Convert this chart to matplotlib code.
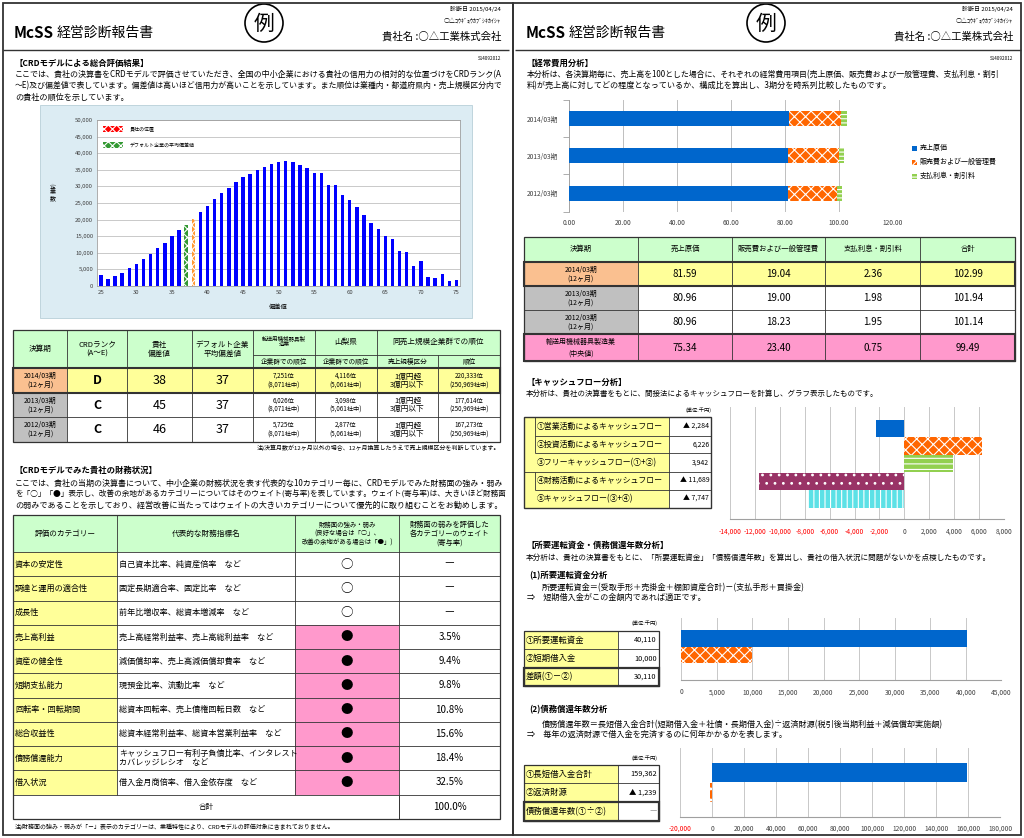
import matplotlib
matplotlib.use('Agg')
import matplotlib.pyplot as plt
from matplotlib.patches import Rectangle, Circle

plt.rcParams['font.family'] = ['Noto Sans CJK JP', 'DejaVu Sans']
plt.rcParams['hatch.linewidth'] = 0.8

# ------------------------------------------------------------------ data
hist_scores = list(range(25, 76))
hist_counts = [3200, 2000, 3000, 4000, 5300, 6600, 8000, 9700, 11300, 13000,
               15100, 16900, 18500, 20300, 22300, 24200, 26200, 28100, 29500, 31200,
               32700, 33700, 35000, 35900, 36600, 37400, 37500, 37300, 36500, 35500,
               34000, 34000, 30400, 30300, 27500, 25800, 23700, 21500, 19100, 17200,
               15000, 14300, 10500, 10100, 5900, 7600, 2600, 2300, 3500, 1500, 1800]
company_score = 38
default_avg_score = 37

crd_periods = ['2014/03期\n(12ヶ月)', '2013/03期\n(12ヶ月)', '2012/03期\n(12ヶ月)']
crd_rank = ['D', 'C', 'C']
crd_score = ['38', '45', '46']
crd_default = ['37', '37', '37']
crd_industry_rank = ['7,251位\n(8,071社中)', '6,026位\n(8,071社中)', '5,725位\n(8,071社中)']
crd_pref_rank = ['4,116位\n(5,061社中)', '3,098位\n(5,061社中)', '2,877位\n(5,061社中)']
crd_size_class = ['1億円超\n3億円以下', '1億円超\n3億円以下', '1億円超\n3億円以下']
crd_size_rank = ['220,333位\n(250,969社中)', '177,614位\n(250,969社中)', '167,273位\n(250,969社中)']

fin_categories = ['資本の安定性', '調達と運用の適合性', '成長性', '売上高利益', '資産の健全性',
                  '短期支払能力', '回転率・回転期間', '総合収益性', '債務償還能力', '借入状況']
fin_indicators = ['自己資本比率、純資産倍率　など', '固定長期適合率、固定比率　など',
                  '前年比増収率、総資本増減率　など', '売上高経常利益率、売上高総利益率　など',
                  '減価償却率、売上高減価償却費率　など', '現預金比率、流動比率　など',
                  '総資本回転率、売上債権回転日数　など', '総資本経常利益率、総資本営業利益率　など',
                  'キャッシュフロー有利子負債比率、インタレスト\nカバレッジレシオ　など',
                  '借入金月商倍率、借入金依存度　など']
fin_marks = ['○', '○', '○', '●', '●', '●', '●', '●', '●', '●']
fin_weights = ['―', '―', '―', '3.5%', '9.4%', '9.8%', '10.8%', '15.6%', '18.4%', '32.5%']
fin_total = '100.0%'

cost_periods = ['2014/03期', '2013/03期', '2012/03期']
cost_items = ['売上原価', '販売費および一般管理費', '支払利息・割引料']
cost_of_sales = [81.59, 80.96, 80.96]
sga_costs = [19.04, 19.00, 18.23]
interest_costs = [2.36, 1.98, 1.95]
industry_label = '輸送用機械器具製造業\n(中央値)'
industry_costs = [75.34, 23.40, 0.75]

cf_labels = ['①営業活動によるキャッシュフロー', '②投資活動によるキャッシュフロー',
             '③フリーキャッシュフロー(①+②)', '④財務活動によるキャッシュフロー',
             '⑤キャッシュフロー(③+④)']
cf_values = [-2284, 6226, 3942, -11689, -7747]

wc_labels = ['①所要運転資金', '②短期借入金', '差額(①－②)']
wc_values = [40110, 10000, 30110]

debt_labels = ['①長短借入金合計', '②返済財源', '債務償還年数(①÷②)']
debt_values = [159362, -1239]
debt_years = '―'

# ------------------------------------------------------------------ colours
GREEN_H = '#ccffcc'
YELLOW = '#ffff99'
PEACH = '#fac090'
GRAY = '#c0c0c0'
PINK = '#ff99cc'
BLUE = '#0066cc'
ORANGE = '#ff6600'
LGREEN = '#92d050'
PURPLE = '#993366'
CYAN = '#5ce1e6'
LINE = '#333333'

W, H = 1024, 838
fig = plt.figure(figsize=(W / 100, H / 100), dpi=100)
bg = fig.add_axes([0, 0, 1, 1])
bg.set_xlim(0, W)
bg.set_ylim(H, 0)
bg.axis('off')
renderer = fig.canvas.get_renderer()


def T(x, y, s, size=5.85, ha='left', va='center', weight='normal', color='black', ls=1.15,
      max_right=None):
    t = bg.text(x, y, s, fontsize=size, ha=ha, va=va, fontweight=weight, color=color,
                linespacing=ls, zorder=5)
    if max_right is not None:
        bb = t.get_window_extent(renderer=renderer)
        if bb.x1 > max_right:
            t.set_fontsize(size * (max_right - x) / (bb.x1 - x))
    return t


def R(x0, y0, x1, y1, fc='none', ec=LINE, lw=0.6, hatch=None, z=1):
    bg.add_patch(Rectangle((x0, y0), x1 - x0, y1 - y0, facecolor=fc, edgecolor=ec,
                           linewidth=lw, hatch=hatch, zorder=z))


def L(x0, y0, x1, y1, color=LINE, lw=0.6, z=3):
    bg.plot([x0, x1], [y0, y1], color=color, lw=lw, zorder=z, solid_capstyle='butt')


def axpx(x0, y0, x1, y1):
    return fig.add_axes([x0 / W, 1 - y1 / H, (x1 - x0) / W, (y1 - y0) / H])


def fmt_tri(v):
    return f'▲ {abs(v):,}' if v < 0 else f'{v:,}'


hmid = lambda a, b: (a + b) / 2

# ------------------------------------------------------------------ page frames / headers
R(3, 3, 513, 835, lw=1.3, z=6)
R(513, 3, 1021, 835, lw=1.3, z=6)
for ox, cx in [(0, 264), (512, 766)]:
    L(ox + 3, 50, ox + 509, 50, lw=1.0)
    T(ox + 14, 33, 'McSS', size=11, weight='bold')
    T(ox + 57, 33, '経営診断報告書', size=10)
    bg.add_patch(Circle((cx, 23), 19, facecolor='none', edgecolor='black', lw=1.2, zorder=5))
    T(cx, 24, '例', size=15, ha='center')
    T(ox + 501, 9, '診断日 2015/04/24', size=4.3, ha='right')
    T(ox + 501, 21, '○△ｺｳｷﾞｮｳｶﾌﾞｼｷｶｲｼｬ', size=4.3, ha='right')
    T(ox + 501, 36, '貴社名 :○△工業株式会社', size=7.5, ha='right')
    T(ox + 501, 58, 'S14092012', size=3.3, ha='right')

# ------------------------------------------------------------------ left page: section 1
T(15, 63, '【CRDモデルによる総合評価結果】', size=6, weight='bold')
p1 = ['ここでは、貴社の決算書をCRDモデルで評価させていただき、全国の中小企業における貴社の信用力の相対的な位置づけをCRDランク(A',
      '～E)及び偏差値で表しています。偏差値は高いほど信用力が高いことを示しています。また順位は業種内・都道府県内・売上規模区分内で',
      'の貴社の順位を示しています。']
for i, s in enumerate(p1):
    T(15, 75 + 11 * i, s, max_right=504)

# histogram panel
R(40, 105, 472, 318, fc='#dcecf3', ec='#b8cfd8', lw=0.6, z=0)
R(97.3, 120, 460, 286, fc='white', ec='none', lw=0, z=0.5)
hax = axpx(97.3, 120, 460, 286)
hax.set_facecolor('none')
hcols = []
hh = []
for s in hist_scores:
    if s == company_score:
        hcols.append('#ff9933'); hh.append('xxxx')
    elif s == default_avg_score:
        hcols.append('#339933'); hh.append('xxxx')
    else:
        hcols.append('#0000ff'); hh.append(None)
bars = hax.bar(hist_scores, hist_counts, width=0.48, color=hcols, linewidth=0, zorder=3)
for b, h in zip(bars, hh):
    if h:
        b.set_hatch(h)
        b.set_edgecolor('white')
hax.set_xlim(24.5, 75.5)
hax.set_ylim(0, 50000)
hax.set_yticks(range(0, 50001, 5000))
hax.set_yticklabels([f'{v:,}' for v in range(0, 50001, 5000)], fontsize=4.3, color='#404040')
hax.set_xticks(range(25, 76, 5))
hax.set_xticklabels([str(v) for v in range(25, 76, 5)], fontsize=4.3, color='#404040')
hax.tick_params(length=0, pad=3)
hax.grid(axis='y', color='#c0c0c0', lw=0.6, zorder=0)
hax.set_axisbelow(True)
for sp in hax.spines.values():
    sp.set_color('#a0a0a0'); sp.set_linewidth(0.6)
T(278, 307, '偏差値', size=4.5, ha='center')
T(53, 193, '企\n業\n数', size=4.3, ha='center', ls=1.0)
# legend inside histogram
R(103, 126, 123, 132, fc='red', ec='white', lw=0, hatch='xxxx', z=4)
T(130, 129, '貴社の位置', size=3.6)
R(103, 142, 123, 148, fc='#339933', ec='white', lw=0, hatch='xxxx', z=4)
T(130, 145, 'デフォルト企業の平均偏差値', size=3.6)

# table 1
c1 = [13, 67, 127, 192, 253, 315, 377, 438, 500]
hy0, hy1, hy2 = 330, 355, 368
r1 = [368, 393, 417, 442]
R(c1[0], hy0, c1[-1], hy2, fc=GREEN_H, lw=0)
for i in range(3):
    fc0 = PEACH if i == 0 else GRAY
    fcr = YELLOW if i == 0 else 'white'
    R(c1[0], r1[i], c1[1], r1[i + 1], fc=fc0, lw=0)
    R(c1[1], r1[i], c1[-1], r1[i + 1], fc=fcr, lw=0)
for i in range(1, len(c1) - 1):
    L(c1[i], hy1 if i == 7 else hy0, c1[i], r1[-1])
L(c1[4], hy1, c1[-1], hy1)
for y in r1[:-1]:
    L(c1[0], y, c1[-1], y)
R(c1[0], hy0, c1[-1], r1[-1], lw=0.9, z=3)
R(c1[0], r1[0], c1[-1], r1[1], lw=1.5, z=4)
hdrs = ['決算期', 'CRDランク\n(A～E)', '貴社\n偏差値', 'デフォルト企業\n平均偏差値']
for i, s in enumerate(hdrs):
    T(hmid(c1[i], c1[i + 1]), 349, s, size=5.5, ha='center')
T(hmid(c1[4], c1[5]), 341.5, '輸送用機械器具製\n造業', size=4.0, ha='center', ls=1.0)
T(hmid(c1[5], c1[6]), 342, '山梨県', size=5.5, ha='center')
T(hmid(c1[6], c1[8]), 342, '同売上規模企業群での順位', size=5.5, ha='center')
T(hmid(c1[4], c1[5]), 361.5, '企業群での順位', size=4.8, ha='center')
T(hmid(c1[5], c1[6]), 361.5, '企業群での順位', size=4.8, ha='center')
T(hmid(c1[6], c1[7]), 361.5, '売上規模区分', size=4.8, ha='center')
T(hmid(c1[7], c1[8]), 361.5, '順位', size=4.8, ha='center')
for i in range(3):
    yc = hmid(r1[i], r1[i + 1])
    T(hmid(c1[0], c1[1]), yc, crd_periods[i], size=5, ha='center', ls=1.1)
    T(hmid(c1[1], c1[2]), yc, crd_rank[i], size=9, ha='center', weight='bold')
    T(hmid(c1[2], c1[3]), yc, crd_score[i], size=9, ha='center')
    T(hmid(c1[3], c1[4]), yc, crd_default[i], size=9, ha='center')
    T(hmid(c1[4], c1[5]), yc, crd_industry_rank[i], size=4.5, ha='center', ls=1.2)
    T(hmid(c1[5], c1[6]), yc, crd_pref_rank[i], size=4.5, ha='center', ls=1.2)
    T(hmid(c1[6], c1[7]), yc, crd_size_class[i], size=5.5, ha='center', ls=1.05)
    T(hmid(c1[7], c1[8]), yc, crd_size_rank[i], size=4.5, ha='center', ls=1.2)
T(500, 448, '注)決算月数が12ヶ月以外の場合、12ヶ月換算したうえで売上規模区分を判断しています。', size=4.3, ha='right')

# ------------------------------------------------------------------ left page: section 2
T(15, 470, '【CRDモデルでみた貴社の財務状況】', size=6, weight='bold')
p2 = ['ここでは、貴社の当期の決算書について、中小企業の財務状況を表す代表的な10カテゴリー毎に、CRDモデルでみた財務面の強み・弱み',
      'を「○」「●」表示し、改善の余地があるカテゴリーについてはそのウェイト(寄与率)を表しています。ウェイト(寄与率)は、大きいほど財務面',
      'の弱みであることを示しており、経営改善に当たってはウェイトの大きいカテゴリーについて優先的に取り組むことをお勧めします。']
for i, s in enumerate(p2):
    T(15, 483 + 11 * i, s, max_right=504)

c2 = [13, 117, 295, 399, 500]
ty0, ty1 = 515, 552
step = 24.25
r2 = [ty1 + step * i for i in range(11)]
tot_b = r2[-1] + 24
R(c2[0], ty0, c2[-1], ty1, fc=GREEN_H, lw=0)
for i in range(10):
    R(c2[0], r2[i], c2[1], r2[i + 1], fc=YELLOW, lw=0)
    if fin_marks[i] == '●':
        R(c2[2], r2[i], c2[3], r2[i + 1], fc=PINK, lw=0)
for i in range(1, 4):
    L(c2[i], ty0, c2[i], r2[-1] if i < 3 else tot_b)
L(c2[3], r2[-1], c2[3], tot_b)
for y in [ty1] + r2[1:]:
    L(c2[0], y, c2[-1], y)
R(c2[0], ty0, c2[-1], tot_b, lw=0.9, z=3)
T(hmid(c2[0], c2[1]), hmid(ty0, ty1), '評価のカテゴリー', size=5.5, ha='center')
T(hmid(c2[1], c2[2]), hmid(ty0, ty1), '代表的な財務指標名', size=5.5, ha='center')
T(hmid(c2[2], c2[3]), hmid(ty0, ty1), '財務面の強み・弱み\n(良好な場合は「○」、\n改善の余地がある場合は「●」)', size=4.6, ha='center', ls=1.15)
T(hmid(c2[3], c2[4]), hmid(ty0, ty1), '財務面の弱みを評価した\n各カテゴリーのウェイト\n(寄与率)', size=5.2, ha='center', ls=1.15)
for i in range(10):
    yc = hmid(r2[i], r2[i + 1])
    T(c2[0] + 2, yc, fin_categories[i], size=5.85)
    T(c2[1] + 2, yc, fin_indicators[i], size=5.85, ls=1.05)
    T(hmid(c2[2], c2[3]), yc, fin_marks[i], size=9, ha='center')
    T(hmid(c2[3], c2[4]), yc, fin_weights[i], size=7, ha='center')
T(hmid(c2[0], c2[3]), hmid(r2[-1], tot_b), '合計', size=5.5, ha='center')
T(hmid(c2[3], c2[4]), hmid(r2[-1], tot_b), fin_total, size=7, ha='center')
T(15, 827, '注)財務面の強み・弱みが「－」表示のカテゴリーは、業種特性により、CRDモデルの評価対象に含まれておりません。', size=4.3)

# ------------------------------------------------------------------ right page: cost analysis
T(527, 63, '【経常費用分析】', size=6, weight='bold')
p3 = ['本分析は、各決算期毎に、売上高を100とした場合に、それぞれの経常費用項目(売上原価、販売費および一般管理費、支払利息・割引',
      '料)が売上高に対してどの程度となっているか、構成比を算出し、3期分を時系列比較したものです。']
for i, s in enumerate(p3):
    T(527, 75 + 11 * i, s, max_right=1003)

cax = axpx(569.3, 100, 893, 211.7)
ypos = list(range(len(cost_periods)))
cax.barh(ypos, cost_of_sales, height=0.4, color=BLUE, lw=0, zorder=3)
left2 = cost_of_sales
cax.barh(ypos, sga_costs, left=left2, height=0.4, color=ORANGE, edgecolor='white',
         hatch='xxx', lw=0, zorder=3)
left3 = [a + b for a, b in zip(cost_of_sales, sga_costs)]
cax.barh(ypos, interest_costs, left=left3, height=0.4, color=LGREEN, edgecolor='white',
         hatch='----', lw=0, zorder=3)
cax.set_xlim(0, 120)
cax.set_ylim(2.5, -0.5)
cax.set_xticks(range(0, 121, 20))
cax.set_xticklabels([f'{v:.2f}' for v in range(0, 121, 20)], fontsize=4.8, color='#404040')
cax.set_yticks(ypos)
cax.set_yticklabels(cost_periods, fontsize=4.8, color='#404040')
cax.set_yticks([-0.5, 0.5, 1.5, 2.5], minor=True)
cax.tick_params(axis='y', which='major', length=0, pad=8)
cax.tick_params(axis='y', which='minor', length=4, color='#a0a0a0', width=0.6)
cax.tick_params(axis='x', length=0, pad=5)
cax.grid(axis='x', color='#bfbfbf', lw=0.7)
cax.set_axisbelow(True)
for k in ['top', 'right', 'bottom']:
    cax.spines[k].set_visible(False)
cax.spines['left'].set_color('#a0a0a0')
cax.spines['left'].set_linewidth(0.6)
cax.set_facecolor('none')
leg_cols = [(BLUE, None), (ORANGE, 'xxx'), (LGREEN, '----')]
for i, (lab, (fc, hat)) in enumerate(zip(cost_items, leg_cols)):
    yc = 148.3 + 13.9 * i
    R(912, yc - 2.5, 917, yc + 2.5, fc=fc, ec='white' if hat else fc, lw=0, hatch=hat, z=4)
    T(920, yc, lab, size=5)

# cost table
c3 = [523.7, 638, 732, 825.3, 920.3, 1015.3]
r3 = [236.7, 261.7, 286, 310, 334.3, 361]
R(c3[0], r3[0], c3[-1], r3[1], fc=GREEN_H, lw=0)
row_labels = [p + '\n(12ヶ月)' for p in cost_periods] + [industry_label]
row_vals = [[a, b, c] for a, b, c in zip(cost_of_sales, sga_costs, interest_costs)] + [industry_costs]
for i in range(4):
    if i == 0:
        fc0, fcr = PEACH, YELLOW
    elif i == 3:
        fc0, fcr = PINK, PINK
    else:
        fc0, fcr = GRAY, 'white'
    R(c3[0], r3[i + 1], c3[1], r3[i + 2], fc=fc0, lw=0)
    R(c3[1], r3[i + 1], c3[-1], r3[i + 2], fc=fcr, lw=0)
for x in c3[1:-1]:
    L(x, r3[0], x, r3[-1])
for y in r3[1:-1]:
    L(c3[0], y, c3[-1], y)
R(c3[0], r3[0], c3[-1], r3[-1], lw=0.9, z=3)
R(c3[0], r3[1], c3[-1], r3[2], lw=1.5, z=4)
R(c3[0], r3[4], c3[-1], r3[5], lw=1.5, z=4)
for j, s in enumerate(['決算期'] + cost_items + ['合計']):
    T(hmid(c3[j], c3[j + 1]), hmid(r3[0], r3[1]), s, size=5.3, ha='center')
for i in range(4):
    yc = hmid(r3[i + 1], r3[i + 2])
    T(hmid(c3[0], c3[1]), yc, row_labels[i], size=5, ha='center', ls=1.1 if i < 3 else 1.6)
    vals = row_vals[i]
    for j, v in enumerate(vals):
        T(hmid(c3[j + 1], c3[j + 2]), yc, f'{v:.2f}', size=7, ha='center')
    T(hmid(c3[4], c3[5]), yc, f'{sum(vals):.2f}', size=7, ha='center')

# ------------------------------------------------------------------ right page: cash flow
T(527, 382, '【キャッシュフロー分析】', size=6, weight='bold')
T(526, 393.5, '本分析は、貴社の決算書をもとに、間接法によるキャッシュフローを計算し、グラフ表示したものです。', max_right=876)
T(711, 410, '(単位:千円)', size=3.8, ha='right')
cfy = [417.3, 435.7, 453.3, 471.7, 490, 508.3]
cx0, cxi, cxv, cx1 = 523.7, 534.7, 669.3, 711.3
R(cx0, cfy[0], cxv, cfy[-1], fc=YELLOW, lw=0)
R(cxv, cfy[0], cx1, cfy[-1], fc='white', lw=0)
L(cxi, cfy[0], cxi, cfy[2])
L(cxi, cfy[3], cxi, cfy[4])
L(cxv, cfy[0], cxv, cfy[-1])
L(cxi, cfy[1], cx1, cfy[1])
L(cxi, cfy[2], cx1, cfy[2])
L(cx0, cfy[3], cx1, cfy[3])
L(cxi, cfy[4], cx1, cfy[4])
R(cx0, cfy[0], cx1, cfy[-1], lw=1.0, z=3)
for i in range(5):
    yc = hmid(cfy[i], cfy[i + 1])
    T(cxi + 2, yc, cf_labels[i], size=5.7)
    T(cx1 - 2, yc, fmt_tri(cf_values[i]), size=5, ha='right')

fax = axpx(730.3, 406.7, 1003.7, 519.3)
cf_styles = [(BLUE, None), (ORANGE, 'xxx'), (LGREEN, '---'), (PURPLE, '..'), (CYAN, '|||')]
for i, (v, (fc, hat)) in enumerate(zip(cf_values, cf_styles)):
    fax.barh(i, v, height=0.98, color=fc, edgecolor='white' if hat else fc,
             hatch=hat, lw=0, zorder=3)
fax.set_xlim(-14000, 8000)
fax.set_ylim(4 + 1.15, -1.22)
cft = list(range(-14000, 8001, 2000))
fax.set_xticks(cft)
fax.set_xticklabels([f'{v:,}' for v in cft], fontsize=4.8)
for lab, v in zip(fax.get_xticklabels(), cft):
    lab.set_color('red' if v < 0 else '#404040')
fax.set_yticks([])
fax.tick_params(axis='x', length=0, pad=6)
fax.grid(axis='x', color='#c8c8c8', lw=0.7)
fax.set_axisbelow(True)
for k in ['top', 'right', 'left']:
    fax.spines[k].set_visible(False)
fax.spines['bottom'].set_color('#a0a0a0')
fax.set_facecolor('none')

# ------------------------------------------------------------------ right page: working capital
T(527, 545, '【所要運転資金・債務償還年数分析】', size=6, weight='bold')
T(526, 557.7, '本分析は、貴社の決算書をもとに、「所要運転資金」「債務償還年数」を算出し、貴社の借入状況に問題がないかを点検したものです。', max_right=990)
T(529, 575.7, '(1)所要運転資金分析', size=6, weight='bold')
T(542, 587.7, '所要運転資金＝(受取手形＋売掛金＋棚卸資産合計)－(支払手形＋買掛金)')
T(527, 597.5, '⇒　短期借入金がこの金額内であれば適正です。')
T(658, 623.3, '(単位:千円)', size=3.8, ha='right')


def small_table(ys, labels, values):
    x0, xm, x1 = 523.7, 618, 658.7
    for i in range(3):
        R(x0, ys[i], xm, ys[i + 1], fc=YELLOW, lw=0)
        R(xm, ys[i], x1, ys[i + 1], fc='white', lw=0)
    L(xm, ys[0], xm, ys[-1])
    for y in ys[1:-1]:
        L(x0, y, x1, y)
    R(x0, ys[0], x1, ys[-1], lw=0.9, z=3)
    R(x0, ys[2], x1, ys[3], lw=1.6, z=4)
    for i in range(3):
        yc = hmid(ys[i], ys[i + 1])
        T(x0 + 2, yc, labels[i], size=6)
        T(x1 - 2, yc, values[i], size=5.3, ha='right')


small_table([631, 649.3, 667.7, 686], wc_labels, [fmt_tri(v) for v in wc_values])

wax = axpx(681.3, 618.3, 1001.3, 680)
wax.barh(0, wc_values[0], height=1.0, color=BLUE, lw=0, zorder=3)
wax.barh(1, wc_values[1], height=1.0, color=ORANGE, edgecolor='white', hatch='xxx', lw=0, zorder=3)
wax.set_xlim(0, 45000)
wax.set_ylim(2.5, -1.2)
wt = list(range(0, 45001, 5000))
wax.set_xticks(wt)
wax.set_xticklabels([f'{v:,}' for v in wt], fontsize=4.8, color='#404040')
wax.set_yticks([])
wax.tick_params(axis='x', length=0, pad=6)
wax.grid(axis='x', color='#c8c8c8', lw=0.7)
wax.set_axisbelow(True)
for k in ['top', 'right', 'left']:
    wax.spines[k].set_visible(False)
wax.spines['bottom'].set_color('#a0a0a0')
wax.set_facecolor('none')

# ------------------------------------------------------------------ right page: debt repayment
T(529, 710, '(2)債務償還年数分析', size=6, weight='bold')
T(542, 724.3, '債務償還年数＝長短借入金合計(短期借入金＋社債・長期借入金)÷返済財源(税引後当期利益＋減価償却実施額)')
T(527, 734.5, '⇒　毎年の返済財源で借入金を完済するのに何年かかるかを表します。')
T(658, 758.3, '(単位:千円)', size=3.8, ha='right')
small_table([765, 783.3, 801.7, 820.7], debt_labels,
            [fmt_tri(v) for v in debt_values] + [debt_years])

dax = axpx(680.3, 748.3, 1000.3, 816.7)
dax.barh(0, debt_values[0], height=0.97, color=BLUE, lw=0, zorder=3)
dax.barh(1, debt_values[1], height=0.97, color=ORANGE, edgecolor='white', hatch='xxx', lw=0, zorder=3)
dax.set_xlim(-20000, 180000)
dax.set_ylim(1 + 1.24, -1.26)
dt = list(range(-20000, 180001, 20000))
dax.set_xticks(dt)
dax.set_xticklabels([f'{v:,}' for v in dt], fontsize=4.8)
for lab, v in zip(dax.get_xticklabels(), dt):
    lab.set_color('red' if v < 0 else '#404040')
dax.set_yticks([])
dax.tick_params(axis='x', length=0, pad=6)
dax.grid(axis='x', color='#c8c8c8', lw=0.7)
dax.set_axisbelow(True)
for k in ['top', 'right', 'left']:
    dax.spines[k].set_visible(False)
dax.spines['bottom'].set_color('#a0a0a0')
dax.set_facecolor('none')

fig.savefig('out.png', dpi=100)
